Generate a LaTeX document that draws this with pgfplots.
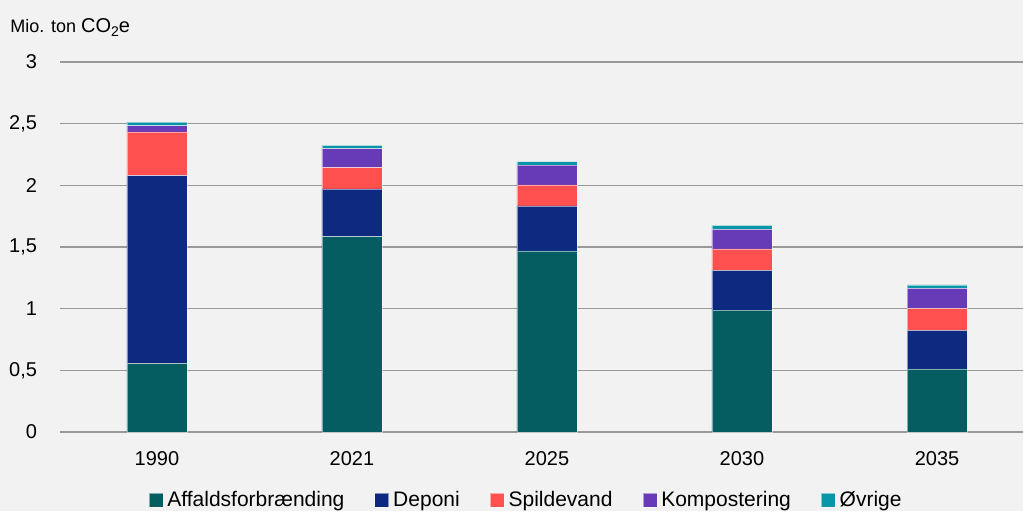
\documentclass[border=0pt]{standalone}
\usepackage{fontspec}
\setmainfont{Liberation Sans}
\usepackage{pgfplots}
\pgfplotsset{compat=1.18}

\definecolor{bgcol}{HTML}{F2F2F2}
\definecolor{gridcol}{HTML}{999999}
\definecolor{caff}{HTML}{055C61}
\definecolor{cdep}{HTML}{0D2A80}
\definecolor{cspild}{HTML}{FF5050}
\definecolor{ckomp}{HTML}{673AB7}
\definecolor{covr}{HTML}{0897A8}

\begin{document}
\begin{tikzpicture}[x=1pt,y=1pt]
\useasboundingbox (-30,-39.5) rectangle (481.5,216);
\fill[bgcol] (-30,-39.5) rectangle (481.5,216);
\begin{axis}[
    at={(0,0)}, anchor=south west,
    scale only axis,
    width=481.5pt, height=185pt,
    ybar stacked,
    bar width=30pt,
    xmin=-0.497, xmax=4.441,
    ymin=0, ymax=3,
    xtick={0,1,2,3,4},
    xticklabels={1990,2021,2025,2030,2035},
    ytick={0,0.5,1,1.5,2,2.5,3},
    yticklabels={0,{0,5},1,{1,5},2,{2,5},3},
    major tick length=0pt,
    axis line style={draw=none},
    ymajorgrids,
    grid style={draw=gridcol, line width=0.8pt},
    tick label style={font=\fontsize{10}{12}\selectfont, text=black},
    yticklabel style={xshift=-8pt},
    xticklabel style={yshift=-6pt},
    /pgf/number format/assume math mode=true,
    legend columns=5,
    legend style={at={(0.485,-0.184)}, anchor=center, draw=none, fill=none,
        font=\fontsize{10.5}{12}\selectfont,
        /tikz/every even column/.append style={column sep=13pt}},
    legend image code/.code={\fill[#1] (0pt,-3.5pt) rectangle (7pt,3.5pt);},
    every axis plot/.append style={draw=white, draw opacity=0.5, line width=0.4pt},
]
\addplot[fill=caff] coordinates {(0,0.557) (1,1.584) (2,1.468) (3,0.989) (4,0.511)};
\addplot[fill=cdep] coordinates {(0,1.522) (1,0.387) (2,0.365) (3,0.322) (4,0.314)};
\addplot[fill=cspild] coordinates {(0,0.354) (1,0.173) (2,0.170) (3,0.173) (4,0.178)};
\addplot[fill=ckomp] coordinates {(0,0.050) (1,0.154) (2,0.160) (3,0.160) (4,0.162)};
\addplot[fill=covr] coordinates {(0,0.030) (1,0.027) (2,0.029) (3,0.032) (4,0.027)};
\legend{Affaldsforbrænding, Deponi, Spildevand, Kompostering, Øvrige}
\end{axis}
\node[anchor=base west, font=\fontsize{9}{11}\selectfont, inner sep=0pt] at (-25,200) {Mio. ton {\fontsize{10}{12}\selectfont CO\raisebox{-0.45ex}{\fontsize{7}{8}\selectfont 2}e}};
\end{tikzpicture}
\end{document}
